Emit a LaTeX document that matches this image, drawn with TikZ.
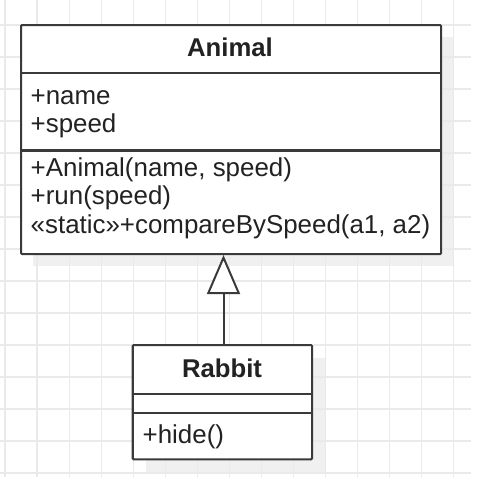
\documentclass[tikz,border=0pt]{standalone}
\usepackage{fontspec}
\setmainfont{Liberation Sans}
\usetikzlibrary{arrows.meta}
\definecolor{gridc}{HTML}{EAEAEA}
\definecolor{shadowc}{HTML}{F0F0F0}
\definecolor{linec}{HTML}{3A3A3A}
\definecolor{textc}{HTML}{222222}
\begin{document}
\begin{tikzpicture}[x=1pt,y=-1pt,
  classbox/.style={draw=linec, line width=2.1pt, fill=white, rounded corners=1pt, inner sep=0pt, anchor=north west},
  sepline/.style={draw=linec, line width=2.1pt},
  shadowbox/.style={fill=shadowc},
  gridline/.style={draw=gridc, line width=1.2pt},
  member/.style={anchor=base west, inner sep=0pt, text=textc, font=\fontsize{25.9}{30}\selectfont},
  title/.style={anchor=base, inner sep=0pt, text=textc, font=\fontsize{25.7}{30}\selectfont\bfseries},
  inherit/.style={draw=linec, line width=2pt, -{Triangle[open, length=39pt, width=33pt, fill=white]}}]
\useasboundingbox (0,0) rectangle (484,498);
\fill[white] (0,0) rectangle (484,498);
% shadows
\fill[shadowbox] (33,37) rectangle (453,266);
\fill[shadowbox] (145.5,357.5) rectangle (325,472);
% grid
\foreach \x in {5,37.05,...,460} \draw[gridline] (\x,0) -- (\x,477);
\foreach \y in {25,57,...,480} \draw[gridline] (0,\y) -- (471,\y);
% Animal class
\node[classbox, minimum width=420pt, minimum height=229pt] (animal) at (20,24) {};
\draw[sepline] (20,73) -- (440,73);
\draw[sepline] (20,150.5) -- (440,150.5);
\node[title] (animalname) at (230,56.7) {Animal};
\node[member] (aname) at (30.5,104) {+name};
\node[member] (aspeed) at (30.5,132.5) {+speed};
\node[member] (actor) at (30.5,176) {+Animal(name, speed)};
\node[member] (arun) at (30.5,204.5) {+run(speed)};
\node[member] (acmp) at (30.5,233) {«static»+compareBySpeed(a1, a2)};
% Rabbit class
\node[classbox, minimum width=179.3pt, minimum height=114.3pt] (rabbit) at (131.7,344) {};
\draw[sepline] (131.7,394.3) -- (311,394.3);
\draw[sepline] (131.7,413.3) -- (311,413.3);
\node[title] (rabbitname) at (222,377.3) {Rabbit};
\node[member] (rhide) at (142.5,443) {+hide()};
% inheritance
\coordinate (ax) at (223.5,0);
\draw[inherit] (rabbit.north -| ax) -- (animal.south -| ax);
\end{tikzpicture}
\end{document}
